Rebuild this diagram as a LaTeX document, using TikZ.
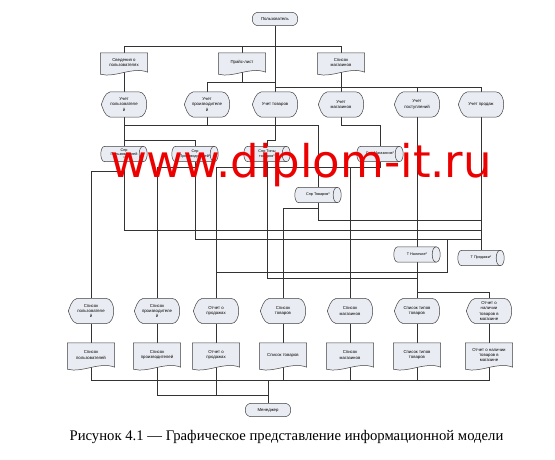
\documentclass[tikz,border=0pt]{standalone}
\usepackage{fontspec}
\setmainfont{Liberation Sans}
\newfontfamily\capfont{Liberation Serif}
\newfontfamily\wmfont{DejaVu Sans}
\usetikzlibrary{calc,backgrounds}
\definecolor{shapefill}{RGB}{233,236,242}
\definecolor{wmred}{RGB}{236,0,0}
\tikzset{
  lbl/.style={inner sep=0pt, align=center, font=\fontsize{4.3}{5.4}\selectfont},
  term/.style={lbl, minimum width=45pt, minimum height=13pt},
  docu/.style={lbl, minimum width=47pt, minimum height=19pt},
  disp/.style={lbl, minimum width=45pt, minimum height=25pt},
  stor/.style={lbl, font=\fontsize{3.8}{4.3}\selectfont, minimum width=46pt, minimum height=15pt},
  outl/.style={draw=black!75, fill=shapefill, line width=0.5pt},
  link/.style={draw=black!80, line width=0.6pt},
}
\begin{document}
\begin{tikzpicture}[x=1pt,y=-1pt]
\useasboundingbox (0,0) rectangle (555,460);

\node[term] (user) at (275,19) {Пользователь};
\node[term] (man) at (268,410) {Менеджер};

\foreach \n/\x/\t in {d1/124/{Сведения о\\пользователях}, d2/242/{Прайс-лист}, d3/341/{Список\\магазинов}}
{
    \node[docu] (\n) at (\x,62.5) {\t};
}
\foreach \n/\x/\t in {u1/124/{Учет\\пользователе\\й}, u2/207/{Учет\\производителе\\й}, u3/275/{Учет товаров},
    u4/341/{Учет\\магазинов}, u5/417/{Учет\\поступлений}, u6/481/{Учет продаж}}
{
    \node[disp] (\n) at (\x,104.5) {\t};
}
\foreach \n/\x/\t in {s1/124/{Спр\\Пользователей\\*}, s2/195/{Спр\\Производителей*}, s3/267/{Спр Типы\\товаров*}, s4/380/{Спр Магазинов*}}
{
    \node[stor] (\n) at (\x,154) {\t};
}
\node[stor] (s5) at (318,195) {Спр Товаров*};
\node[stor] (s6) at (417,254.5) {Т Наличие*};
\node[stor] (s7) at (481,258) {Т Продажи*};

\foreach \n/\x/\t in {l1/91/{Список\\пользователе\\й}, l2/157/{Список\\производителе\\й}, l3/216/{Отчет о\\продажах},
    l4/283/{Список\\товаров}, l5/350/{Список\\магазинов}, l6/417/{Список типов\\товаров}, l7/489/{Отчет о\\наличии\\товаров в\\магазине}}
{
    \node[disp] (\n) at (\x,311) {\t};
}
\foreach \n/\x/\t in {r1/91/{Список\\пользователей}, r2/157/{Список\\производителей}, r3/216/{Отчет о\\продажах},
    r4/283/{Список товаров}, r5/350/{Список\\магазинов}, r6/417/{Список типов\\товаров}, r7/489/{Отчет о наличии\\товаров в\\магазине}}
{
    \node[docu, minimum height=24pt] (\n) at (\x,355) {\t};
}

% levels of the buses
\coordinate (h1) at (0,46);
\coordinate (h2) at (0,87);
\coordinate (h3) at (0,82);
\coordinate (h4) at (0,125);
\coordinate (h5) at (0,220);
\coordinate (h6) at (0,208);
\coordinate (h7) at (0,230);
\coordinate (h8) at (0,239);
\coordinate (h9) at (0,272);
\coordinate (h10) at (0,278);
\coordinate (h11) at (0,292);
\coordinate (h12) at (0,380);
\coordinate (h13) at (0,395);
\coordinate (h14) at (0,171);
\coordinate (h15) at (0,167);
\coordinate (h16) at (0,140);
\coordinate (k1) at (447,0);

\begin{pgfonlayer}{background}
\fill[white] (0,0) rectangle (555,460);

\draw[link] (user) -- (u3);
\draw[link] (d1.north) |- (d3.north |- h1) -- (d3.north);
\draw[link] (d2.north) -- (d2.north |- h1);
\draw[link] (d1) -- (u1);
\draw[link] (d2.south) |- (u3.north |- h3);
\draw[link] (d2.south |- h3) -| (u2.north);
\draw[link] (d3) -- (u4);
\draw[link] (u3.north |- h2) -| (u6.north);
\draw[link] (u5.north) -- (u5.north |- h2);

\draw[link] (u1.south) |- (s5.north |- h4) -- (s5.north);
\draw[link] (u2.south) -- (u2.south |- h4);
\draw[link] (u3.south) |- (s3.north |- h16) -- (s3.north);
\draw[link] (u1) -- (s1);
\draw[link] (u1.south |- h16) -| (s2.north);
\draw[link] (u4.south) -- ++(0,8) -| (s4.north);
\draw[link] (u5) -- (s6);
\draw[link] (u6) -- (s7);

\draw[link] (s5.south) |- (s7.north |- h5);
\draw[link] (s5.south |- h6) -| (l4.north);
\draw[link] (s1.south) |- (s7.north |- h7);
\draw[link] (s2.south) |- (s7.north |- h8);
\draw[link] (s7.north |- h8) -| (k1 |- h9) -| (l3.north);
\draw[link] (s3.south) |- (l6.north |- h10);
\draw[link] (s6) -- (l6);
\draw[link] (l6.north |- h11) -| (l7.north);
\draw[link] (s1.south |- h14) -| (l1.north);
\draw[link] (s2.south |- h15) -| (l2.north);
\draw[link] (s4.south) |- (l3.north |- h15) -- (l3.north);
\draw[link] (l5.north |- h15) -- (l5.north);

\foreach \i in {1,...,7}
{
    \draw[link] (l\i) -- (r\i);
}
\draw[link] (r1.south) |- (r7.south |- h12) -- (r7.south);
\foreach \i in {2,...,6}
{
    \draw[link] (r\i.south) -- (r\i.south |- h12);
}
\draw[link] (r2.south |- h12) |- (man.north |- h13);
\draw[link] (r3.south |- h12) -- (r3.south |- h13);
\draw[link] (man.north |- h12) -- (man.north);

% outlines of the shapes
\foreach \n in {user,man}
{
    \filldraw[outl, rounded corners=6pt] (\n.north west) rectangle (\n.south east);
}
\foreach \n in {d1,d2,d3,r1,r2,r3,r4,r5,r6,r7}
{
    \filldraw[outl] (\n.north west) -- (\n.north east) -- (\n.south east)
        .. controls ($(\n.south east)+(-15,-6)$) and ($(\n.south west)+(15,6)$) .. ($(\n.south west)+(0,2)$) -- cycle;
}
\foreach \n in {u1,u2,u3,u4,u5,u6,l1,l2,l3,l4,l5,l6,l7}
{
    \filldraw[outl] ($(\n.north west)+(9,0)$) -- ($(\n.north east)+(-8,0)$)
        .. controls ($(\n.north east)+(2.7,0)$) and ($(\n.south east)+(2.7,0)$) .. ($(\n.south east)+(-8,0)$)
        -- ($(\n.south west)+(9,0)$)
        .. controls ($(\n.south west)+(3,-1)$) and ($(\n.west)+(1.5,3)$) .. (\n.west)
        .. controls ($(\n.west)+(1.5,-3)$) and ($(\n.north west)+(3,1)$) .. ($(\n.north west)+(9,0)$) -- cycle;
}
\foreach \n in {s1,s2,s3,s4,s5,s6,s7}
{
    \filldraw[outl] ($(\n.north west)+(4,0)$) -- ($(\n.north east)+(-4,0)$)
        .. controls +(5.33,0) and +(5.33,0) .. ($(\n.south east)+(-4,0)$)
        -- ($(\n.south west)+(4,0)$)
        .. controls +(-5.33,0) and +(-5.33,0) .. ($(\n.north west)+(4,0)$) -- cycle;
    \draw[outl, fill=none] ($(\n.north east)+(-4,0)$)
        .. controls +(-5.33,0) and +(-5.33,0) .. ($(\n.south east)+(-4,0)$);
}
\end{pgfonlayer}

\node[text=wmred, font=\wmfont\fontsize{45}{45}\selectfont, anchor=base] (wm) at (301,178) {www.diplom-it.ru};
\node[font=\capfont\fontsize{14.7}{17}\selectfont, anchor=base] (cap) at (286.5,440) {Рисунок 4.1 — Графическое представление информационной модели};

\end{tikzpicture}
\end{document}
